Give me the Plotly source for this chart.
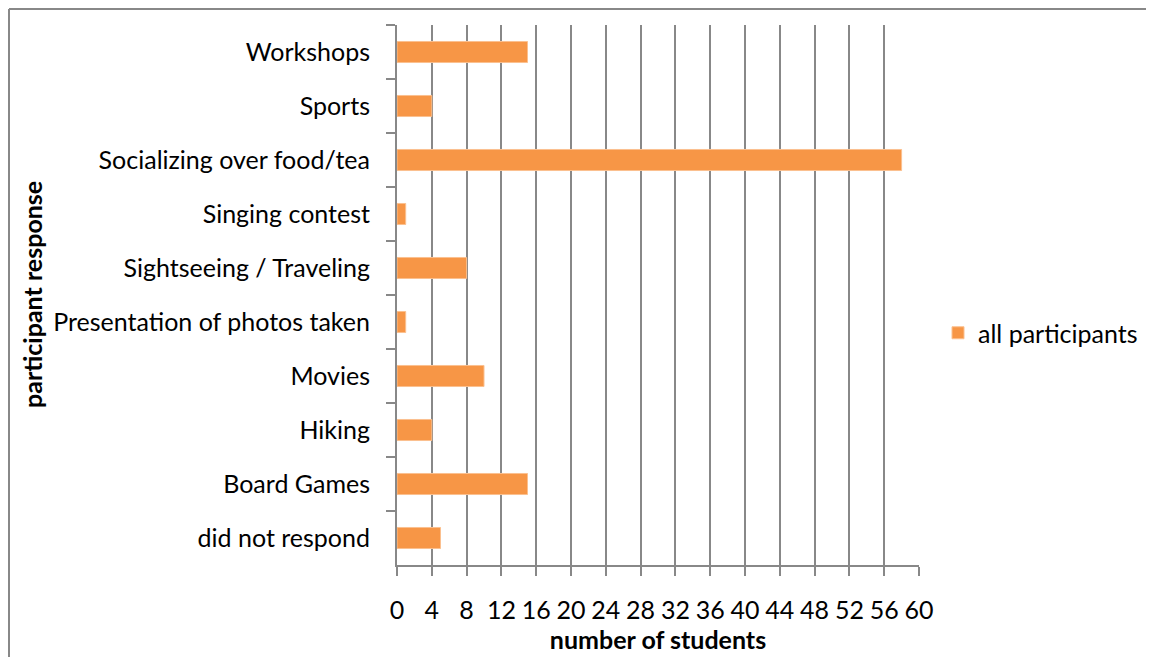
import plotly.graph_objects as go

categories = ["Workshops", "Sports", "Socializing over food/tea", "Singing contest",
              "Sightseeing / Traveling", "Presentation of photos taken", "Movies",
              "Hiking", "Board Games", "did not respond"]
values = [15, 4, 58, 1, 8, 1, 10, 4, 15, 5]
x_ticks = list(range(0, 61, 4))

FONT = "Lato"
GRAY = "#888888"
FS = 25

fig = go.Figure()
fig.add_trace(go.Bar(
    y=categories, x=values, orientation="h", name="all participants",
    marker=dict(color="#F79646", line=dict(color="#FBC08F", width=1)),
))

# page is offset by the 8px body margin
W, H = 1154, 657
L, R, T, B = 389, 243, 17, 100
pw, ph = W - L - R, H - T - B

fig.update_layout(
    width=W, height=H,
    margin=dict(l=L, r=R, t=T, b=B),
    paper_bgcolor="white", plot_bgcolor="white",
    font=dict(family=FONT, size=FS, color="#000000"),
    bargap=0.61,
    showlegend=True,
    legend=dict(x=(930 - L) / pw, y=(H - B - 325) / ph, xanchor="left", yanchor="middle",
                font=dict(size=FS), itemwidth=30),
    xaxis=dict(
        range=[0, 60], tickvals=x_ticks, ticks="outside", ticklen=9, tickcolor=GRAY, tickwidth=1.5,
        showgrid=True, gridcolor=GRAY, gridwidth=1.5,
        showline=True, linecolor=GRAY, linewidth=2, zeroline=False,
        ticklabelstandoff=13,
        title=dict(text="<b>number of students</b>", font=dict(size=FS), standoff=1),
    ),
    yaxis=dict(
        autorange="reversed", ticks="outside", ticklen=9, tickcolor=GRAY, tickwidth=1.5,
        tickson="boundaries", showgrid=False,
        showline=True, linecolor=GRAY, linewidth=2,
        ticklabelstandoff=20,
    ),
    annotations=[dict(
        text="<b>participant response</b>", textangle=-90, showarrow=False,
        xref="paper", yref="paper", x=(24 - L) / pw, y=0.5, xanchor="center", yanchor="middle",
        font=dict(size=FS),
    )],
)

# outer chart frame (left and top edges)
fx = (1 - L) / pw
fy = 1 + (T - 1) / ph
fig.add_shape(type="line", xref="paper", yref="paper", x0=fx, x1=fx, y0=fy, y1=-0.5,
              line=dict(color=GRAY, width=2))
fig.add_shape(type="line", xref="paper", yref="paper", x0=fx, x1=2, y0=fy, y1=fy,
              line=dict(color=GRAY, width=2))

fig.write_html("out.html")
